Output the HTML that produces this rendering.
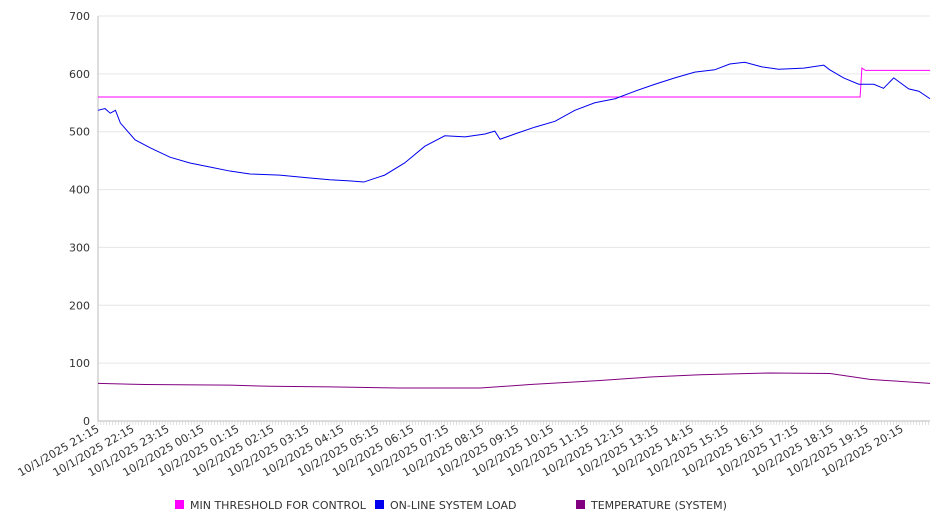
<!DOCTYPE html>
<html><head><meta charset="utf-8"><style>
html,body{margin:0;padding:0;background:#fff;width:946px;height:526px;overflow:hidden}
svg{font-family:"DejaVu Sans","Liberation Sans",sans-serif}
</style></head><body>
<svg id="chart" width="946" height="526"></svg>
<script>
const tickLabels=["10/1/2025 21:15","10/1/2025 22:15","10/1/2025 23:15","10/2/2025 00:15","10/2/2025 01:15","10/2/2025 02:15","10/2/2025 03:15","10/2/2025 04:15","10/2/2025 05:15","10/2/2025 06:15","10/2/2025 07:15","10/2/2025 08:15","10/2/2025 09:15","10/2/2025 10:15","10/2/2025 11:15","10/2/2025 12:15","10/2/2025 13:15","10/2/2025 14:15","10/2/2025 15:15","10/2/2025 16:15","10/2/2025 17:15","10/2/2025 18:15","10/2/2025 19:15","10/2/2025 20:15"];
const yTicks=[0,100,200,300,400,500,600,700];
// hours after 10/1 21:15
const loadHours=[0,0.2,0.35,0.5,0.64,1.06,1.5,2.06,2.63,3.2,3.77,4.35,5.2,6.06,6.63,7.2,7.6,8.2,8.77,9.35,9.92,10.5,11.07,11.35,11.5,11.92,12.5,13.07,13.64,14.21,14.79,15.36,15.93,16.5,17.07,17.64,18.07,18.5,18.99,19.47,20.19,20.76,20.93,21.33,21.76,21.96,22.19,22.47,22.76,23.19,23.48,23.8];
const loadValues=[537,540,532,537,515,486,472,456,446,439,432,427,425,420,417,415,413,425,446,475,493,491,496,501,487,496,508,518,537,550,557,570,582,593,603,607,617,620,612,608,610,615,607,593,582,582,582,575,593,574,570,557];
const threshHours=[0,21.8,21.85,21.95,23.8];
const threshValues=[560,560,610,606,606];
const tempHours=[0,1.34,3.78,4.92,6.64,8.64,10.93,12.36,14.36,15.79,17.22,19.22,20.94,22.08,23.8];
const tempValues=[65,63,62,60,59,57,57,63,70,76,80,83,82,72,65];
const L=98,R=930,T=16,B=421,H0=34.96;
const x=h=>L+h*H0, y=v=>B-(v/700)*(B-T);
const svg=document.getElementById('chart'),NS='http://www.w3.org/2000/svg';
function mk(t,a,p){const e=document.createElementNS(NS,t);for(const k in a)e.setAttribute(k,a[k]);(p||svg).appendChild(e);return e;}
yTicks.forEach(v=>{
 const g=mk('line',{x1:L,x2:R,y1:y(v),y2:y(v),stroke:v===0?'#bbb':'#e6e6e6','stroke-width':1});
 
 
 const t=mk('text',{x:90,y:y(v)+4,'text-anchor':'end','font-size':11,fill:'#333'});t.textContent=v;
 
 
});
mk('line',{x1:L,x2:L,y1:T,y2:B,stroke:'#bbb'});
for(let m=0;m<=23.8*12;m++){const xx=x(m/12);mk('line',{x1:xx,x2:xx,y1:B,y2:B+4,stroke:'#ccc','stroke-width':0.6});}
tickLabels.forEach((s,i)=>{
 const t=mk('text',{transform:`translate(${x(i)+2},${B+10}) rotate(-30)`,'text-anchor':'end','font-size':11,fill:'#333'});t.textContent=s;
 
 
});
function series(hs,vs,color,name){
 const p=mk('polyline',{points:hs.map((h,i)=>x(h)+','+y(vs[i])).join(' '),fill:'none',stroke:color,'stroke-width':1});
 
 
}
series(tempHours,tempValues,'#800080','temperature-line');
series(threshHours,threshValues,'#ff00ff','threshold-line');
series(loadHours,loadValues,'#0000ee','system-load-line');
const leg=[['#ff00ff','MIN THRESHOLD FOR CONTROL',175],['#0000ee','ON-LINE SYSTEM LOAD',375],['#800080','TEMPERATURE (SYSTEM)',576]];
leg.forEach(l=>{
 const g=mk('g',{});
 
 
 mk('rect',{x:l[2],y:500,width:9,height:9,fill:l[0]},g);
 const t=mk('text',{x:l[2]+15,y:509,'font-size':11,fill:'#333'},g);t.textContent=l[1];
});
</script>
</body></html>
